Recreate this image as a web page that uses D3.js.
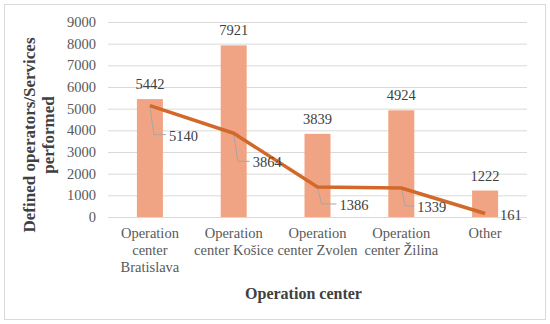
<!DOCTYPE html>
<html>
<head>
<meta charset="utf-8">
<script src="https://cdnjs.cloudflare.com/ajax/libs/d3/7.8.5/d3.min.js"></script>
</head>
<body style="margin:0; background:#fff">
<div id="chart"></div>
<script>
var categories = [
    ["Operation", "center", "Bratislava"],
    ["Operation", "center Košice"],
    ["Operation", "center Zvolen"],
    ["Operation", "center Žilina"],
    ["Other"]
];
var definedOperators = [5442, 7921, 3839, 4924, 1222];
var servicesPerformed = [5140, 3864, 1386, 1339, 161];
var yTicks = [0, 1000, 2000, 3000, 4000, 5000, 6000, 7000, 8000, 9000];

// where excel dragged the line labels (px from the point)
var labelShift = [[19, 30], [19, 29], [22, 18], [16, 19], [15, 1]];

var FONT = "Liberation Serif";

var W = 550, H = 324;
var margin = {top: 22, right: 23, bottom: 107, left: 108};
var width = W - margin.left - margin.right;
var height = H - margin.top - margin.bottom;

var svg = d3.select("#chart").append("svg")
    .attr("width", W)
    .attr("height", H)
    .attr("font-family", FONT);

svg.append("rect")
    .attr("x", 4.5).attr("y", 4.5)
    .attr("width", 541).attr("height", 315)
    .attr("fill", "#fff")
    .attr("stroke", "#d9d9d9");

var g = svg.append("g")
    .attr("transform", "translate(" + margin.left + "," + margin.top + ")");

var x = d3.scaleBand().domain(d3.range(categories.length)).range([0, width]);
var y = d3.scaleLinear().domain([0, 9000]).range([height, 0]);

// grid
g.append("g")
    .call(d3.axisLeft(y).tickValues(yTicks).tickSize(-width).tickFormat(""))
    .call(a => a.select(".domain").remove())
    .call(a => a.selectAll("line").attr("stroke", "#d9d9d9").attr("stroke-width", 1));

// y tick labels
g.append("g")
    .call(d3.axisLeft(y).tickValues(yTicks).tickSize(0).tickPadding(12).tickFormat(d3.format("d")))
    .attr("font-family", FONT)
    .attr("font-size", 14.5)
    .call(a => a.select(".domain").remove())
    .call(a => a.selectAll("text").attr("fill", "#595959"));

var barW = 26;
var cx = i => x(i) + x.bandwidth() / 2;

g.selectAll(".bar")
    .data(definedOperators)
    .enter().append("rect")
    .attr("class", "bar")
    .attr("x", (d, i) => cx(i) - barW / 2)
    .attr("width", barW)
    .attr("y", d => y(d))
    .attr("height", d => height - y(d))
    .attr("fill", "#F1A484");

g.selectAll(".barlabel")
    .data(definedOperators)
    .enter().append("text")
    .attr("x", (d, i) => cx(i))
    .attr("y", d => y(d) - 10)
    .attr("text-anchor", "middle")
    .attr("fill", "#404040")
    .attr("font-size", 14.5)
    .text(d => d);

// leader lines
g.selectAll(".leader")
    .data(servicesPerformed)
    .enter().append("path")
    .attr("fill", "none")
    .attr("stroke", "#a6a6a6")
    .attr("stroke-width", 1)
    .attr("d", (d, i) => {
        var px = cx(i), py = y(d);
        var s = labelShift[i];
        if (s[1] < 5) return null;
        var ly = py + s[1] - 1;
        return "M" + px + "," + py + "L" + (px + 4) + "," + ly + "L" + (px + s[0] - 3) + "," + ly;
    });

var line = d3.line().x((d, i) => cx(i)).y(d => y(d));

g.append("path")
    .datum(servicesPerformed)
    .attr("fill", "none")
    .attr("stroke", "#D2692A")
    .attr("stroke-width", 3.5)
    .attr("stroke-linejoin", "round")
    .attr("d", line);

g.selectAll(".linelabel")
    .data(servicesPerformed)
    .enter().append("text")
    .attr("x", (d, i) => cx(i) + labelShift[i][0])
    .attr("y", (d, i) => y(d) + labelShift[i][1])
    .attr("dy", "0.35em")
    .attr("fill", "#404040")
    .attr("font-size", 14.5)
    .text(d => d);

// category labels
var cat = g.selectAll(".cat")
    .data(categories)
    .enter().append("text")
    .attr("text-anchor", "middle")
    .attr("fill", "#595959")
    .attr("font-size", 14.5)
    .attr("transform", (d, i) => "translate(" + cx(i) + "," + (height + 21) + ")");

cat.selectAll("tspan")
    .data(d => d)
    .enter().append("tspan")
    .attr("x", 0)
    .attr("y", (d, j) => j * 17)
    .text(d => d);

// axis titles
svg.append("text")
    .attr("x", 303.5)
    .attr("y", 299)
    .attr("text-anchor", "middle")
    .attr("fill", "#404040")
    .attr("font-size", 16)
    .attr("font-weight", "bold")
    .text("Operation center");

var yt = svg.append("text")
    .attr("transform", "translate(35,135) rotate(-90)")
    .attr("text-anchor", "middle")
    .attr("fill", "#404040")
    .attr("font-size", 17)
    .attr("font-weight", "bold");

yt.append("tspan").attr("x", 0).attr("y", 0).text("Defined operators/Services");
yt.append("tspan").attr("x", 0).attr("y", 19).text("performed");
</script>
</body>
</html>
